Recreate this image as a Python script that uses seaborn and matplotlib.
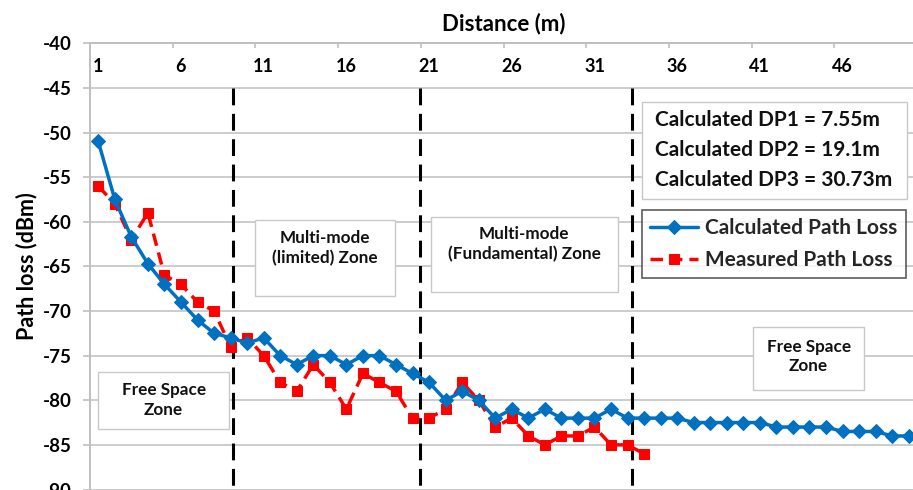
import matplotlib
matplotlib.use("Agg")
import matplotlib.pyplot as plt
from matplotlib.patches import Rectangle
import seaborn as sns
import pandas as pd
import numpy as np

# ---------------- data ----------------
distance_calc = list(range(1, 51))
calculated_loss = [-51, -57.5, -61.7, -64.7, -67, -69, -71, -72.5, -73, -73.6,
                   -73, -75, -76, -75, -75, -76, -75, -75, -76, -77,
                   -78, -80, -79, -80, -82, -81, -82, -81, -82, -82,
                   -82, -81, -82, -82, -82, -82, -82.5, -82.5, -82.5, -82.5,
                   -82.5, -83, -83, -83, -83, -83.5, -83.5, -83.5, -84, -84]
distance_meas = list(range(1, 35))
measured_loss = [-56, -58, -62, -59, -66, -67, -69, -70, -74, -73,
                 -75, -78, -79, -76, -78, -81, -77, -78, -79, -82,
                 -82, -81, -78, -80, -83, -82, -84, -85, -84, -84,
                 -83, -85, -85, -86]
x_tick_labels = [1, 6, 11, 16, 21, 26, 31, 36, 41, 46]
y_ticks = [-90, -85, -80, -75, -70, -65, -60, -55, -50, -45, -40]
dp_line_positions = [9.16, 20.45, 33.28]
dp_texts = ["Calculated DP1 = 7.55m", "Calculated DP2 = 19.1m", "Calculated DP3 = 30.73m"]
series_labels = ["Calculated Path Loss", "Measured Path Loss"]

calc_df = pd.DataFrame({"Distance": distance_calc, "Loss": calculated_loss})
meas_df = pd.DataFrame({"Distance": distance_meas, "Loss": measured_loss})

# ---------------- style ----------------
sns.set_theme(style="white")
plt.rcParams['font.family'] = ['Lato', 'DejaVu Sans']
plt.rcParams['font.weight'] = 'bold'

BLUE = "#0070C0"
RED = "#FF0000"
GRID = "#BFBFBF"

fig = plt.figure(figsize=(9.13, 4.9), dpi=100)
ax = fig.add_axes([90 / 913, 0.5 / 490, 827 / 913, 446.2 / 490])

# grid (horizontal)
ax.set_ylim(-90, -40)
ax.set_xlim(0.5, 50.5)
ax.set_yticks(y_ticks)
ax.yaxis.grid(True, color=GRID, linewidth=1.1, zorder=0)
ax.xaxis.grid(False)
ax.set_axisbelow(True)

# zone boundary lines
for xp in dp_line_positions:
    ln = ax.plot([xp, xp], [-45, -90], color="black", linewidth=2.2, zorder=2)[0]
    ln.set_dashes((5.5, 2.8))

# series
sns.lineplot(data=calc_df, x="Distance", y="Loss", ax=ax, color=BLUE,
             linewidth=2.5, marker="D", markersize=7.5, markeredgecolor=BLUE,
             markerfacecolor=BLUE, label=series_labels[0], zorder=5)
sns.lineplot(data=meas_df, x="Distance", y="Loss", ax=ax, color=RED,
             linewidth=2.5, marker="s", markersize=6.5, markeredgecolor=RED,
             markerfacecolor=RED, label=series_labels[1], zorder=4)
meas_line = ax.lines[-1]
meas_line.set_dashes((3.6, 2.0))

# spines
for s in ["right", "bottom"]:
    ax.spines[s].set_visible(False)
for s in ["top", "left"]:
    ax.spines[s].set_visible(True)
    ax.spines[s].set_color(GRID)
    ax.spines[s].set_linewidth(1.4)

# x axis on top, labels inside
ax.xaxis.set_ticks_position('top')
ax.set_xticks(np.arange(5.5, 50, 5))
ax.set_xticklabels([])
ax.set_xticks(x_tick_labels, minor=True)
ax.set_xticklabels([str(v) for v in x_tick_labels], minor=True)
ax.tick_params(axis='x', which='major', top=True, bottom=False, direction='in',
               length=3.6, width=1.2, color=GRID, labeltop=False, labelbottom=False)
ax.tick_params(axis='x', which='minor', top=True, bottom=False, length=0,
               labeltop=True, labelbottom=False, pad=-23, labelsize=13,
               labelcolor="black")
ax.xaxis.set_label_position('top')
ax.set_xlabel("Distance (m)", fontsize=16, fontweight='bold', labelpad=9,
              color="black")

# y axis
ax.tick_params(axis='y', which='major', left=True, direction='out', length=5,
               width=1.2, color=GRID, pad=8, labelsize=13.5, labelcolor="black")
ax.set_yticklabels([str(v) for v in y_ticks])
ax.set_ylabel("Path loss (dBm)", fontsize=15.5, fontweight='bold', labelpad=4,
              color="black")

# zone boxes (axes fraction)
def zone_box(x0, y0, x1, y1, tx, ty, text, ls=1.3, ha='center', size=12.5):
    ax.add_patch(Rectangle((x0, y0), x1 - x0, y1 - y0, transform=ax.transAxes,
                           facecolor="white", edgecolor="#C8C8C8", linewidth=1.0,
                           zorder=2.5))
    ax.text(tx, ty, text, transform=ax.transAxes, ha=ha, va='center',
            fontsize=size, fontweight='bold', color="#111111",
            linespacing=ls, zorder=2.6)

zone_box(0.010, 0.135, 0.168, 0.264, 0.089, 0.200, "Free Space\nZone", size=12.3)
zone_box(0.1995, 0.434, 0.3688, 0.604, 0.284, 0.540, "Multi-mode\n(limited) Zone", size=12.3)
zone_box(0.412, 0.442, 0.638, 0.611, 0.525, 0.549, "Multi-mode\n(Fundamental) Zone", size=12.3)
zone_box(0.8017, 0.223, 0.9359, 0.364, 0.869, 0.298, "Free Space\nZone", size=12.3)
zone_box(0.668, 0.650, 0.9875, 0.869, 0.683, 0.761, "\n".join(dp_texts),
         ls=1.62, ha='left', size=15)

# legend
leg = ax.legend(loc='upper left', bbox_to_anchor=(0.668, 0.4785, 0.319, 0.148),
                mode='expand', borderaxespad=0, frameon=True, fancybox=False,
                handlelength=2.3, handletextpad=0.3,
                borderpad=0.38, labelspacing=0.58, prop={'weight': 'bold', 'size': 15})
leg.get_frame().set_edgecolor("#333333")
leg.get_frame().set_linewidth(1.2)
leg.set_zorder(6)

fig.savefig("out.png", dpi=100)
